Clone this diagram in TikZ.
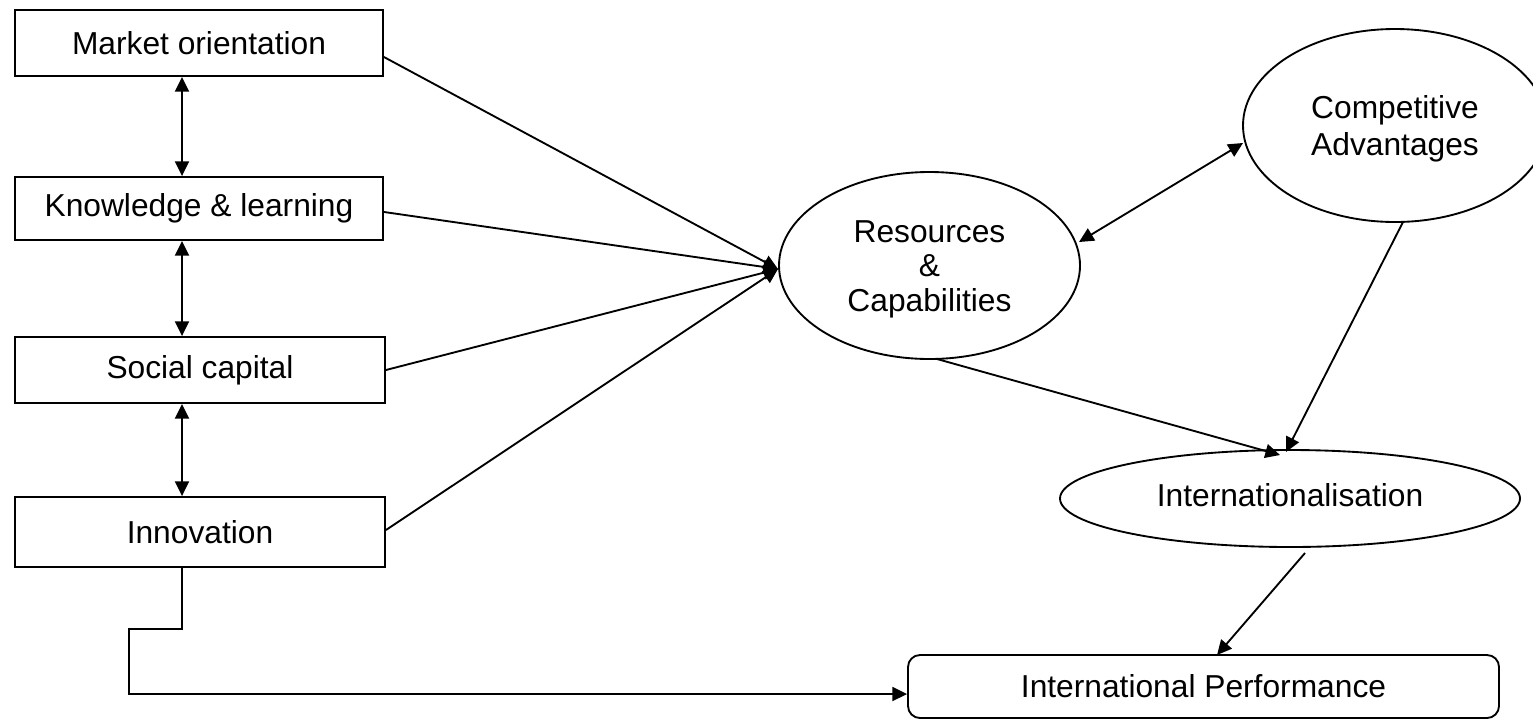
\documentclass[tikz,border=0pt]{standalone}
\usepackage{fontspec}
\setmainfont{Liberation Sans}
\usetikzlibrary{arrows.meta,shapes.geometric}
\begin{document}
\begin{tikzpicture}[x=0.75pt,y=-0.75pt,
  every node/.style={font=\fontsize{23.8pt}{28pt}\selectfont},
  box/.style={draw,line width=1.4pt,rectangle,inner sep=0pt},
  oval/.style={draw,line width=1.4pt,ellipse,inner sep=0pt},
  lbl/.style={anchor=base,inner sep=0pt},
  conn/.style={line width=1.4pt,-{Triangle[length=11pt,width=10.5pt]}},
  dconn/.style={line width=1.4pt,{Triangle[length=11pt,width=10.5pt]}-{Triangle[length=11pt,width=10.5pt]}}]
\clip (0,0) rectangle (1533,726);
\useasboundingbox (0,0) rectangle (1533,726);
% boxes
\node[box,minimum width=276pt,minimum height=49.5pt] (mo) at (199,43) {Market orientation};
\node[box,minimum width=276pt,minimum height=47.25pt] (kl) at (199,208.5) {Knowledge \& learning};
\node[box,minimum width=277.5pt,minimum height=49.5pt] (sc) at (200,370) {Social capital};
\node[box,minimum width=277.5pt,minimum height=52.5pt] (inn) at (200,532) {Innovation};
\node[box,rounded corners=9pt,minimum width=443.25pt,minimum height=47.25pt] (ip) at (1203.5,686.5) {International Performance};
% ellipses
\node[oval,minimum width=225.75pt,minimum height=140.25pt] (res) at (929.5,265.5) {};
\node[lbl] (res1) at (929.5,242) {Resources};
\node[lbl] (res2) at (929.5,276) {\&};
\node[lbl] (res3) at (929.5,311) {Capabilities};
\node[oval,minimum width=228pt,minimum height=144.75pt] (ca) at (1395,125.5) {};
\node[lbl] (ca1) at (1395,118) {Competitive};
\node[lbl] (ca2) at (1395,155) {Advantages};
\node[oval,minimum width=345pt,minimum height=72.75pt] (int) at (1290,498.5) {};
\node[lbl] (int1) at (1290,506) {Internationalisation};
% helper coordinates
\coordinate (vx) at (182,0);
\coordinate (conv) at (778,269);
\coordinate (resr) at (1079,242);
\coordinate (cal) at (1243,143);
\coordinate (resb) at (937,359);
\coordinate (intt1) at (1280,455);
\coordinate (cab) at (1403,222);
\coordinate (intt2) at (1286,452);
\coordinate (intb) at (1305,553);
\coordinate (ipt) at (1217,655);
\coordinate (e1) at (182,629);
\coordinate (e2) at (129,629);
\coordinate (e3) at (129,694);
% vertical double arrows
\draw[dconn] (mo.south -| vx) -- (kl.north -| vx);
\draw[dconn] (kl.south -| vx) -- (sc.north -| vx);
\draw[dconn] (sc.south -| vx) -- (inn.north -| vx);
% converging arrows
\draw[conn] ([yshift=-10.5pt]mo.east) -- (conv);
\draw[conn] ([yshift=-2.6pt]kl.east) -- (conv);
\draw[conn] (sc.east) -- (conv);
\draw[conn] ([yshift=1.5pt]inn.east) -- (conv);
% right side
\draw[dconn] (resr) -- (cal);
\draw[conn] (resb) -- (intt1);
\draw[conn] (cab) -- (intt2);
\draw[conn] (intb) -- (ipt);
% elbow from innovation
\draw[conn] (inn.south -| vx) -- (e1) -- (e2) -- (e3) -- (ip.west |- e3);
\end{tikzpicture}
\end{document}
